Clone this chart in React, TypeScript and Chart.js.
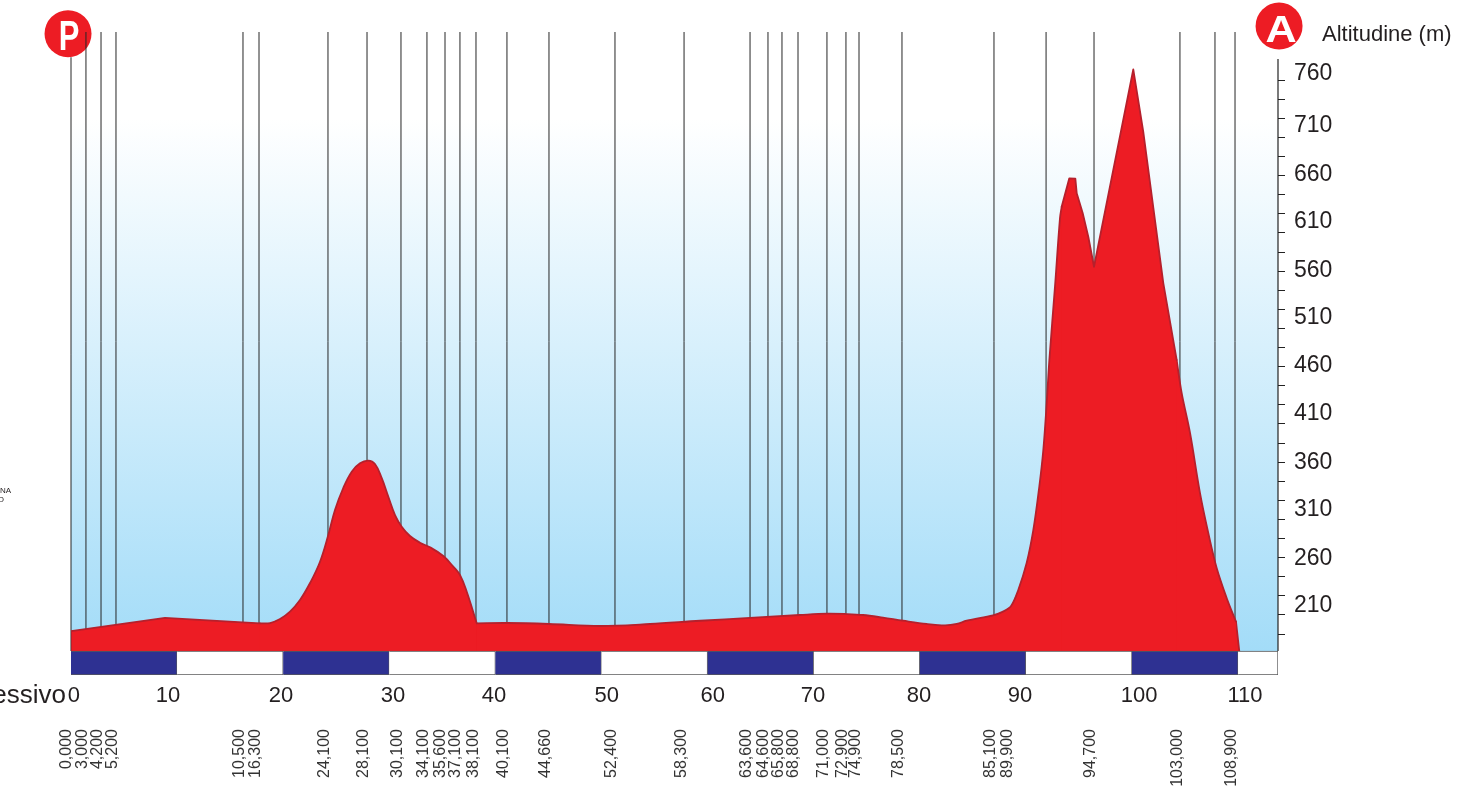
import React, { useEffect, useRef } from "react";
import { Chart, registerables } from "chart.js";

Chart.register(...registerables);

// Profile
const profileKm = [0, 0, 8.86, 17.81, 18.76, 19.7, 20.64, 21.58, 22.53, 23.47, 24.25, 24.88, 25.66, 26.46, 27.24, 28.02, 28.65, 29.28, 29.91, 30.54, 31.17, 31.95, 32.89, 33.84, 35.09, 36.03, 36.66, 37.3, 38.24, 41.09, 45.05, 49.86, 54.57, 59.28, 63.99, 68.71, 71.23, 73.11, 74.65, 76.53, 78.42, 80.65, 82.38, 83.48, 84.42, 86.9, 87.84, 88.6, 89.28, 90.07, 90.7, 91.26, 91.64, 91.96, 92.21, 92.74, 93.21, 93.37, 94.09, 94.66, 94.79, 95.35, 95.88, 96.42, 100.12, 101.06, 102.95, 104.21, 104.68, 105.47, 106.41, 107.19, 107.98, 108.92, 109.8, 110.11];
const profileAlt = [162.2, 183.1, 196.8, 191.2, 191.5, 195.7, 203.4, 215.6, 233.4, 255.7, 283.7, 309.8, 332.9, 350, 358.7, 361.5, 358, 343.4, 323.8, 304.6, 292.4, 282.6, 275.6, 270.8, 261.7, 250.5, 241.8, 224.3, 191.2, 191.5, 190.5, 188.4, 190.5, 193.9, 196.8, 199.9, 201.3, 200.9, 199.9, 197.1, 193.9, 190.5, 189.1, 190.5, 193.9, 199.6, 203.4, 209.3, 226.1, 254.3, 288.9, 334.2, 372.7, 421.9, 466.9, 543.7, 615.3, 627.4, 657.2, 656.8, 641.5, 620.8, 596, 564.6, 771.3, 706, 547.5, 466.9, 432.4, 390.5, 327.6, 285.8, 249.1, 217.7, 192.9, 162.2];
// Stretches of the profile: straight ones keep their corners, the others are smoothed
const stretchFirst = [0, 3, 28, 57, 67, 74];
const stretchLast = [3, 28, 57, 67, 74, 75];
const stretchTension = [0, 0.4, 0.35, 0, 0.35, 0];

// Vertical waypoint lines (where they stand on the km axis)
const waypointKm = [0, 1.41, 2.83, 4.24, 16.21, 17.72, 24.22, 27.9, 31.1, 33.55, 35.25, 36.66, 38.17, 41.09, 45.05, 51.27, 57.78, 64.0, 65.69, 67.01, 68.52, 71.25, 73.04, 74.27, 78.32, 86.99, 91.9, 96.42, 104.52, 107.82, 109.71];
const firstWaypointTop = 784;

// Rotated waypoint labels, and where each stands on the km axis
const waypointLabels = ["0,000", "3,000", "4,200", "5,200", "10,500", "16,300", "24,100", "28,100", "30,100", "34,100", "35,600", "37,100", "38,100", "40,100", "44,660", "52,400", "58,300", "63,600", "64,600", "65,800", "68,800", "71,000", "72,900", "74,900", "78,500", "85,100", "89,900", "94,700", "103,000", "108,900"];
const waypointLabelKm = [-0.38, 1.13, 2.55, 3.96, 15.93, 17.44, 23.94, 27.62, 30.82, 33.27, 34.87, 36.29, 37.98, 40.78, 44.77, 50.99, 57.52, 63.71, 65.32, 66.73, 68.14, 70.97, 72.76, 73.99, 78.04, 86.71, 88.31, 96.11, 104.34, 109.43];

// Km axis labels, and where each stands on the km axis
const kmLabels = ["0", "10", "20", "30", "40", "50", "60", "70", "80", "90", "100", "110"];
const kmLabelAt = [0.28, 9.14, 19.79, 30.35, 39.87, 50.49, 60.48, 69.93, 79.92, 89.44, 100.66, 110.65];

// 10 km strip under the profile
const blockStart = [0, 10, 20, 30, 40, 50, 60, 70, 80, 90, 100, 110];
const blockEnd = [10, 20, 30, 40, 50, 60, 70, 80, 90, 100, 110, 113.76];
const blockColor = ["#2e3192", "#ffffff", "#2e3192", "#ffffff", "#2e3192", "#ffffff", "#2e3192", "#ffffff", "#2e3192", "#ffffff", "#2e3192", "#ffffff"];

// Altitude axis
const altLabels = ["760", "710", "660", "610", "560", "510", "460", "410", "360", "310", "260", "210"];
const altLabelAt = [766.3, 711.9, 660.9, 611.4, 560.9, 510.8, 460.5, 410.3, 359.9, 309.7, 259.4, 209.2];
const altTicks = [180, 200, 220, 240, 260, 280, 300, 320, 340, 360, 380, 400, 420, 440, 460, 480, 500, 520, 540, 560, 580, 600, 620, 640, 660, 680, 700, 720, 740, 760];

const X_MAX = 113.76;
const Y_MIN = 137.07;
const Y_MAX = 810.4;
const GROUND = 162.2;
const AXIS_TOP = 782;
const STRIP_MID = 149.63;
const markerKm = [-0.28, 113.86];
const markerAlt = [808.6, 816.6];

const ink = "#231f20";
const sans = "'Liberation Sans', Arial, sans-serif";

const decor = {
  id: "decor",
  beforeDatasetsDraw(chart: any) {
    const { ctx, chartArea: a, scales } = chart;
    const top = scales.y.getPixelForValue(Y_MAX);
    const bottom = scales.y.getPixelForValue(GROUND);
    const g = ctx.createLinearGradient(0, scales.y.getPixelForValue(720), 0, bottom);
    g.addColorStop(0, "#ffffff");
    g.addColorStop(1, "#a3dcf8");
    ctx.save();
    ctx.fillStyle = g;
    ctx.fillRect(a.left, top, a.right - a.left, bottom - top);
    ctx.restore();
  },
  afterDatasetsDraw(chart: any) {
    const { ctx } = chart;
    ctx.save();
    ctx.fillStyle = "#ffffff";
    ctx.textAlign = "center";
    ctx.textBaseline = "alphabetic";
    ctx.save();
    ctx.translate(69, 49.5);
    ctx.scale(0.72, 1);
    ctx.font = `bold 43px ${sans}`;
    ctx.fillText("P", 0, 0);
    ctx.restore();
    ctx.save();
    ctx.translate(1281, 41.7);
    ctx.scale(1.2, 1);
    ctx.font = `bold 36px ${sans}`;
    ctx.fillText("A", 0, 0);
    ctx.restore();
    ctx.fillStyle = ink;
    ctx.textAlign = "left";
    ctx.font = `22px ${sans}`;
    ctx.fillText("Altitudine (m)", 1322, 41);
    ctx.textAlign = "right";
    ctx.font = `26px ${sans}`;
    ctx.fillText("progressivo", 66, 703);
    ctx.font = `8px ${sans}`;
    ctx.fillText("NA", 11, 493);
    ctx.fillText("O", 4, 502);
    ctx.restore();
  },
};

export default function App() {
  const ref = useRef<HTMLCanvasElement>(null);
  useEffect(() => {
    const chart = new Chart(ref.current as HTMLCanvasElement, {
      type: "line",
      plugins: [decor],
      data: {
        datasets: [
          {
            type: "bar",
            order: 0,
            indexAxis: "y",
            data: blockStart.map((s, i) => ({ x: [s, blockEnd[i]], y: STRIP_MID })),
            backgroundColor: blockColor,
            borderColor: "#58585a",
            borderWidth: 1,
            barThickness: 24,
          },
          ...stretchFirst.map((first, s) => ({
            order: 1,
            data: profileKm
              .slice(first, stretchLast[s] + 1)
              .map((x, i) => ({ x, y: profileAlt[first + i] })),
            borderColor: "#b6202c",
            borderWidth: 1.8,
            borderJoinStyle: "round",
            borderCapStyle: "round",
            backgroundColor: "#ed1c24",
            fill: { value: GROUND },
            pointRadius: 0,
            tension: stretchTension[s],
          })),
          {
            // the whole profile underneath, so the stretches meet without a seam
            order: 1.5,
            data: profileKm.map((x, i) => ({ x, y: profileAlt[i] })),
            borderWidth: 0,
            backgroundColor: "#ed1c24",
            fill: { value: GROUND },
            pointRadius: 0,
            tension: 0,
          },
          {
            order: 2,
            data: waypointKm.flatMap((x, i) => [
              { x, y: GROUND },
              { x, y: i === 0 ? firstWaypointTop : Y_MAX },
              { x, y: null },
            ]),
            borderColor: "#262626",
            borderWidth: 1,
            pointRadius: 0,
            spanGaps: false,
            clip: false,
          },
          {
            order: 2,
            data: [
              { x: X_MAX, y: GROUND },
              { x: X_MAX, y: AXIS_TOP },
            ],
            borderColor: "#222222",
            borderWidth: 1.2,
            pointRadius: 0,
            clip: false,
          },
          {
            order: 3,
            data: markerKm.map((x, i) => ({ x, y: markerAlt[i] })),
            showLine: false,
            pointRadius: 23.5,
            pointBackgroundColor: "#ed1c24",
            pointBorderWidth: 0,
            clip: false,
          },
        ],
      } as any,
      options: {
        responsive: false,
        animation: false,
        devicePixelRatio: 1,
        layout: { padding: { left: 71, top: 32, right: 0, bottom: 0 } },
        plugins: { legend: { display: false }, tooltip: { enabled: false } },
        events: [],
        scales: {
          x: {
            type: "linear",
            position: "bottom",
            weight: 0,
            min: 0,
            max: X_MAX,
            grid: { display: false, drawTicks: false },
            border: { display: false },
            afterBuildTicks: (s: any) => {
              s.ticks = kmLabelAt.map((value) => ({ value }));
            },
            afterFit: (s: any) => {
              s.height = 44;
            },
            ticks: {
              autoSkip: false,
              maxRotation: 0,
              minRotation: 0,
              padding: 8,
              color: ink,
              font: { family: sans, size: 22 },
              callback: (v: any) => kmLabels[kmLabelAt.indexOf(Number(v))],
            },
          },
          km: {
            type: "linear",
            position: "bottom",
            axis: "x",
            weight: 1,
            min: 0,
            max: X_MAX,
            grid: { display: false, drawTicks: false },
            border: { display: false },
            afterBuildTicks: (s: any) => {
              s.ticks = waypointLabelKm.map((value) => ({ value }));
            },
            afterFit: (s: any) => {
              s.height = 79;
            },
            ticks: {
              autoSkip: false,
              maxRotation: 90,
              minRotation: 90,
              padding: 10,
              color: "#333333",
              font: { family: sans, size: 16 },
              callback: (v: any) => waypointLabels[waypointLabelKm.indexOf(Number(v))],
            },
          },
          y: {
            type: "linear",
            position: "right",
            offset: false,
            min: Y_MIN,
            max: Y_MAX,
            grid: {
              offset: false,
              drawOnChartArea: false,
              drawTicks: true,
              tickLength: 7,
              tickWidth: 1,
              tickColor: (c: any) => (altLabelAt.includes(c.tick?.value) ? "transparent" : "#222222"),
            },
            border: { display: false },
            afterBuildTicks: (s: any) => {
              s.ticks = [...altTicks, ...altLabelAt].sort((a, b) => a - b).map((value) => ({ value }));
            },
            afterFit: (s: any) => {
              s.width = 193;
            },
            ticks: {
              autoSkip: false,
              padding: 9,
              color: ink,
              font: { family: sans, size: 23 },
              callback: (v: any) => {
                const i = altLabelAt.indexOf(Number(v));
                return i < 0 ? "" : altLabels[i];
              },
            },
          },
        },
      } as any,
    });
    return () => chart.destroy();
  }, []);
  return (
    <canvas
      ref={ref}
      width={1471}
      height={798}
      style={{ position: "absolute", left: 0, top: 0, width: 1471, height: 798, display: "block" }}
    />
  );
}
